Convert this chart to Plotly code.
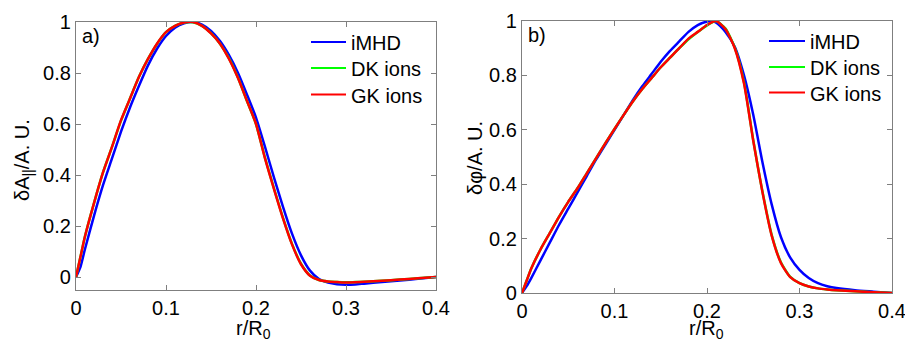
import plotly.graph_objects as go

# ---------------- data: panel a) ----------------
r_a = [0, 0.005, 0.01, 0.02, 0.03, 0.04, 0.05, 0.06, 0.07, 0.08, 0.09, 0.10,
       0.11, 0.12, 0.13, 0.14, 0.15, 0.16, 0.17, 0.18, 0.19, 0.20, 0.21, 0.22,
       0.23, 0.24, 0.25, 0.26, 0.27, 0.28, 0.29, 0.30, 0.31, 0.32, 0.34, 0.36,
       0.38, 0.40]
imhd_a = [0, 0.04, 0.11, 0.24, 0.36, 0.465, 0.57, 0.665, 0.75, 0.83, 0.895, 0.945,
          0.978, 0.995, 1.0, 0.99, 0.965, 0.925, 0.87, 0.80, 0.715, 0.625, 0.51, 0.39,
          0.275, 0.17, 0.085, 0.025, -0.008, -0.022, -0.028, -0.030, -0.029, -0.026, -0.020, -0.014,
          -0.007, 0.0]
dk_a = [0, 0.08, 0.16, 0.29, 0.41, 0.51, 0.613, 0.70, 0.785, 0.855, 0.914, 0.96,
        0.985, 0.998, 0.999, 0.985, 0.956, 0.915, 0.857, 0.781, 0.69, 0.60, 0.467, 0.347,
        0.232, 0.13, 0.052, 0.006, -0.012, -0.018, -0.020, -0.021, -0.020, -0.019, -0.015, -0.010,
        -0.005, 0.0]
gk_a = [0, 0.08, 0.16, 0.29, 0.41, 0.51, 0.615, 0.70, 0.785, 0.855, 0.915, 0.96,
        0.985, 0.998, 1.0, 0.985, 0.955, 0.915, 0.855, 0.78, 0.69, 0.60, 0.465, 0.345,
        0.23, 0.128, 0.05, 0.005, -0.012, -0.018, -0.020, -0.022, -0.021, -0.019, -0.015, -0.010,
        -0.005, 0.0]

# ---------------- data: panel b) ----------------
r_b = [0, 0.005, 0.01, 0.02, 0.03, 0.04, 0.05, 0.06, 0.07, 0.08, 0.09, 0.10,
       0.11, 0.12, 0.13, 0.14, 0.15, 0.16, 0.17, 0.18, 0.19, 0.20, 0.205, 0.21,
       0.22, 0.23, 0.24, 0.25, 0.26, 0.27, 0.28, 0.29, 0.30, 0.31, 0.32, 0.33,
       0.34, 0.36, 0.38, 0.40]
imhd_b = [0, 0.025, 0.055, 0.12, 0.185, 0.25, 0.31, 0.37, 0.43, 0.49, 0.545, 0.60,
          0.655, 0.71, 0.76, 0.805, 0.85, 0.89, 0.925, 0.96, 0.985, 0.998, 1.0, 0.994,
          0.96, 0.905, 0.80, 0.655, 0.48, 0.325, 0.205, 0.13, 0.085, 0.055, 0.036, 0.025,
          0.018, 0.010, 0.005, 0.0]
dk_b = [0, 0.045, 0.09, 0.16, 0.22, 0.28, 0.335, 0.385, 0.44, 0.495, 0.55, 0.603,
        0.655, 0.705, 0.75, 0.79, 0.83, 0.865, 0.90, 0.933, 0.96, 0.984, 0.994, 1.0,
        0.972, 0.902, 0.775, 0.562, 0.372, 0.213, 0.112, 0.059, 0.036, 0.024, 0.017, 0.013,
        0.010, 0.006, 0.003, 0.0]
gk_b = [0, 0.045, 0.09, 0.16, 0.22, 0.28, 0.335, 0.385, 0.44, 0.495, 0.55, 0.603,
        0.655, 0.705, 0.75, 0.79, 0.83, 0.865, 0.90, 0.935, 0.96, 0.985, 0.995, 1.0,
        0.97, 0.90, 0.77, 0.56, 0.37, 0.21, 0.11, 0.058, 0.036, 0.024, 0.017, 0.013,
        0.010, 0.006, 0.003, 0.0]

series_names = ["iMHD", "DK ions", "GK ions"]
series_colors = ["#0000FF", "#00FF00", "#FF0000"]

x_ticks = [0, 0.1, 0.2, 0.3, 0.4]
x_ticklabels = ["0", "0.1", "0.2", "0.3", "0.4"]
y_ticks = [0, 0.2, 0.4, 0.6, 0.8, 1]
y_ticklabels = ["0", "0.2", "0.4", "0.6", "0.8", "1"]

FONT = "Liberation Sans, Arial, sans-serif"
W, H = 905, 344

def px(x):
    return x / W

def py(y):
    return (H - y) / H

fig = go.Figure()

for ys, name, col in zip([imhd_a, dk_a, gk_a], series_names, series_colors):
    fig.add_trace(go.Scatter(x=r_a, y=ys, mode="lines", name=name, showlegend=False,
                             line=dict(color=col, width=2.5, shape="spline", smoothing=0.6),
                             xaxis="x", yaxis="y"))
for ys, name, col in zip([imhd_b, dk_b, gk_b], series_names, series_colors):
    fig.add_trace(go.Scatter(x=r_b, y=ys, mode="lines", name=name, showlegend=False,
                             line=dict(color=col, width=2.5, shape="spline", smoothing=0.6),
                             xaxis="x2", yaxis="y2"))

axis_common = dict(showgrid=False, zeroline=False, showline=True, linecolor="#7f7f7f",
                   linewidth=1.2, mirror="ticks", ticks="inside", ticklen=5,
                   tickcolor="#7f7f7f", automargin=False, ticklabeloverflow="allow",
                   tickfont=dict(family=FONT, size=20, color="black"))

# hand-drawn legends (line sample + label) for each panel
shapes = []
annotations = []
legend_specs = [
    (311, 346, 349, [42, 68, 94.5]),     # panel a)
    (769, 805, 808, [41, 67, 92.5]),     # panel b)
]
for x0, x1, xt, rows in legend_specs:
    for name, col, yrow in zip(series_names, series_colors, rows):
        shapes.append(dict(type="line", xref="paper", yref="paper",
                           x0=px(x0), x1=px(x1), y0=py(yrow), y1=py(yrow),
                           line=dict(color=col, width=2)))
        annotations.append(dict(text=name, xref="paper", yref="paper",
                                x=px(xt), y=py(yrow + 1), xanchor="left", yanchor="middle",
                                showarrow=False,
                                font=dict(family=FONT, size=20, color="black")))

annotations += [
    dict(text="a)", xref="paper", yref="paper", x=px(80), y=py(23),
         xanchor="left", yanchor="top", showarrow=False,
         font=dict(family=FONT, size=20, color="black")),
    dict(text="b)", xref="paper", yref="paper", x=px(526), y=py(22),
         xanchor="left", yanchor="top", showarrow=False,
         font=dict(family=FONT, size=20, color="black")),
    dict(text="δA<sub>||</sub>/A. U.", xref="paper", yref="paper",
         x=px(23), y=py(160), xanchor="center", yanchor="middle",
         textangle=-90, showarrow=False,
         font=dict(family=FONT, size=20, color="black")),
    dict(text="δφ/A. U.", xref="paper", yref="paper",
         x=px(475), y=py(158), xanchor="center", yanchor="middle",
         textangle=-90, showarrow=False,
         font=dict(family=FONT, size=20, color="black")),
    dict(text="r/R<sub>0</sub>", xref="paper", yref="paper",
         x=px(254), y=py(315), xanchor="center", yanchor="top",
         showarrow=False, font=dict(family=FONT, size=20, color="black")),
    dict(text="r/R<sub>0</sub>", xref="paper", yref="paper",
         x=px(706), y=py(315), xanchor="center", yanchor="top",
         showarrow=False, font=dict(family=FONT, size=20, color="black")),
]

fig.update_layout(
    width=W, height=H,
    margin=dict(l=0, r=0, t=0, b=0, pad=0, autoexpand=False),
    paper_bgcolor="white", plot_bgcolor="white",
    showlegend=False,
    xaxis=dict(domain=[px(76), px(436)], range=[0, 0.4], anchor="y",
               tickvals=x_ticks, ticktext=x_ticklabels, **axis_common),
    yaxis=dict(domain=[py(290), py(22)], range=[-0.051, 1], anchor="x",
               tickvals=y_ticks, ticktext=y_ticklabels, **axis_common),
    xaxis2=dict(domain=[px(522), px(892)], range=[0, 0.4], anchor="y2",
                tickvals=x_ticks, ticktext=x_ticklabels, **axis_common),
    yaxis2=dict(domain=[py(293), py(21)], range=[0, 1], anchor="x2",
                tickvals=y_ticks, ticktext=y_ticklabels, **axis_common),
    shapes=shapes,
    annotations=annotations,
)

fig.write_html("out.html", config={"displayModeBar": False},
               post_script="document.body.style.margin='0';document.body.style.overflow='hidden';")
